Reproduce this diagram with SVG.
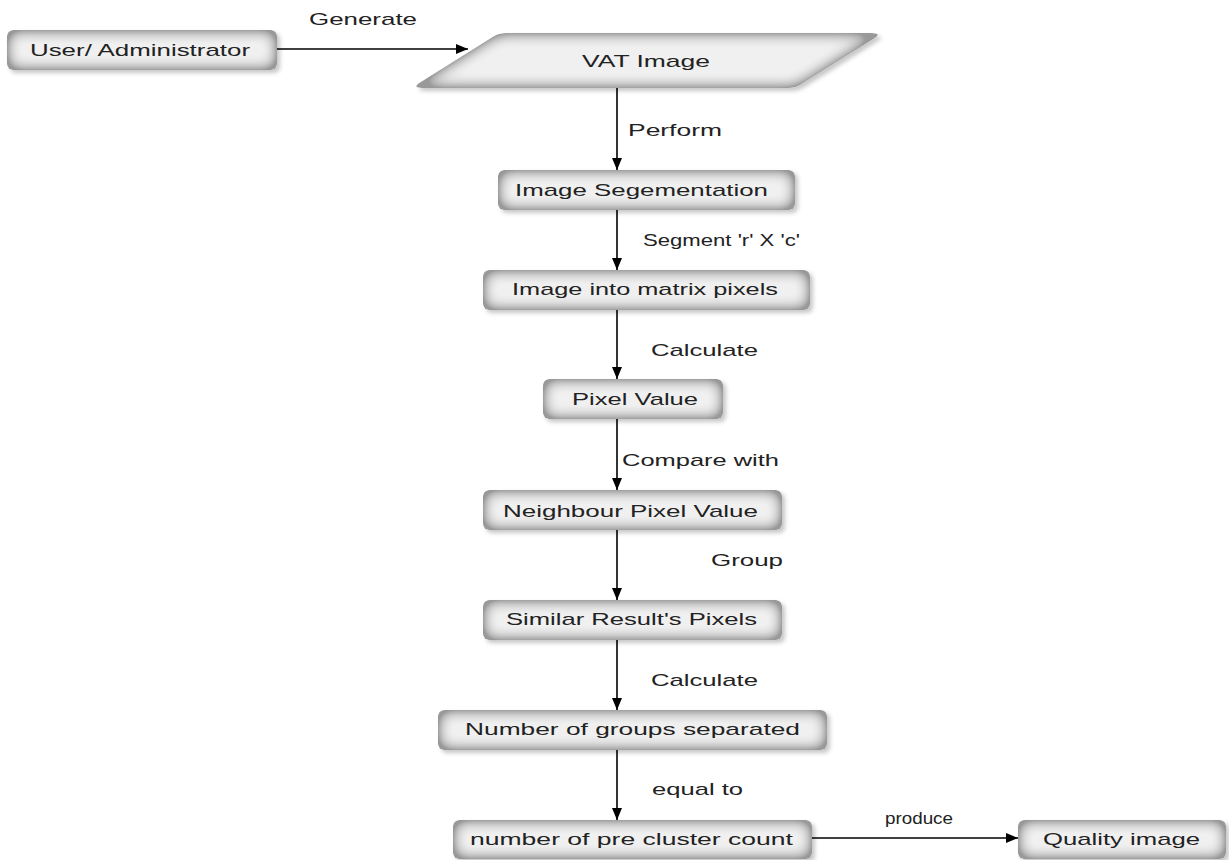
<svg xmlns="http://www.w3.org/2000/svg" width="1229" height="860" viewBox="0 0 1229 860">
  <style>
    .node { fill: #999999; filter: url(#bevel); }
    .label { font-family: "Liberation Sans", Arial, sans-serif; font-size: 17px; fill: #222; }
    .link { stroke: #000; stroke-width: 1.6; fill: none; marker-end: url(#head); }
  </style>
  <defs>
    <!-- soft bevelled face: grey rim fading smoothly to a light centre, plus a small drop shadow -->
    <filter id="bevel" x="-5%" y="-25%" width="112%" height="160%">
      <feGaussianBlur in="SourceAlpha" stdDeviation="8" result="blur"/>
      <feComponentTransfer in="blur" result="core">
        <feFuncA type="linear" slope="2" intercept="-0.95"/>
      </feComponentTransfer>
      <feFlood flood-color="#f0f0f0" result="light"/>
      <feComposite in="light" in2="core" operator="in" result="lightCore"/>
      <feMerge result="face">
        <feMergeNode in="SourceGraphic"/>
        <feMergeNode in="lightCore"/>
      </feMerge>
      <feComposite in="face" in2="SourceAlpha" operator="in" result="clipped"/>
      <feOffset in="SourceAlpha" dx="3" dy="3" result="off"/>
      <feGaussianBlur in="off" stdDeviation="2" result="offBlur"/>
      <feFlood flood-color="#000" flood-opacity="0.22"/>
      <feComposite in2="offBlur" operator="in" result="shadow"/>
      <feMerge>
        <feMergeNode in="shadow"/>
        <feMergeNode in="clipped"/>
      </feMerge>
    </filter>
    <marker id="head" viewBox="0 0 12 10" refX="12" refY="5" markerWidth="12" markerHeight="10" markerUnits="userSpaceOnUse" orient="auto">
      <path d="M0,0 L12,5 L0,10 Z" fill="#000"/>
    </marker>
  </defs>

  <!-- connectors -->
  <g id="connectors">
    <line class="link" x1="277" y1="49" x2="468" y2="49"/>
    <line class="link" x1="617" y1="88" x2="617" y2="170"/>
    <line class="link" x1="617" y1="210" x2="617" y2="270"/>
    <line class="link" x1="617" y1="310" x2="617" y2="379"/>
    <line class="link" x1="617" y1="419" x2="617" y2="490"/>
    <line class="link" x1="617" y1="530" x2="617" y2="600"/>
    <line class="link" x1="617" y1="640" x2="617" y2="710"/>
    <line class="link" x1="617" y1="750" x2="617" y2="820"/>
    <line class="link" x1="812" y1="838" x2="1018" y2="838"/>
    <text class="label" x="309" y="25" textLength="108" lengthAdjust="spacingAndGlyphs">Generate</text>
    <text class="label" x="628" y="136" textLength="94" lengthAdjust="spacingAndGlyphs">Perform</text>
    <text class="label" x="643" y="246" textLength="157" lengthAdjust="spacingAndGlyphs">Segment 'r' X 'c'</text>
    <text class="label" x="651" y="356" textLength="107" lengthAdjust="spacingAndGlyphs">Calculate</text>
    <text class="label" x="622" y="466" textLength="157" lengthAdjust="spacingAndGlyphs">Compare with</text>
    <text class="label" x="711" y="566" textLength="72" lengthAdjust="spacingAndGlyphs">Group</text>
    <text class="label" x="651" y="686" textLength="107" lengthAdjust="spacingAndGlyphs">Calculate</text>
    <text class="label" x="652" y="795" textLength="91" lengthAdjust="spacingAndGlyphs">equal to</text>
    <text class="label" x="885" y="824" textLength="68" lengthAdjust="spacingAndGlyphs">produce</text>
  </g>

  <g id="user">
    <rect class="node" x="7" y="30" width="270" height="40" rx="6"/>
    <text class="label" x="30" y="56" textLength="220" lengthAdjust="spacingAndGlyphs">User/ Administrator</text>
  </g>

  <g id="vat-image">
    <path class="node" d="M506,33 L872,33 Q882,33 875,38 L800,85 Q795,88 788,88 L422,88 Q412,88 419,83 L494,36 Q499,33 506,33 Z"/>
    <text class="label" x="582" y="67" textLength="128" lengthAdjust="spacingAndGlyphs">VAT Image</text>
  </g>

  <g id="segmentation">
    <rect class="node" x="498" y="170" width="297" height="40" rx="6"/>
    <text class="label" x="515" y="196" textLength="253" lengthAdjust="spacingAndGlyphs">Image Segementation</text>
  </g>

  <g id="matrix">
    <rect class="node" x="483" y="270" width="327" height="40" rx="6"/>
    <text class="label" x="512" y="295" textLength="266" lengthAdjust="spacingAndGlyphs">Image into matrix pixels</text>
  </g>

  <g id="pixel-value">
    <rect class="node" x="543" y="379" width="180" height="40" rx="6"/>
    <text class="label" x="572" y="405" textLength="126" lengthAdjust="spacingAndGlyphs">Pixel Value</text>
  </g>

  <g id="neighbour">
    <rect class="node" x="483" y="490" width="299" height="40" rx="6"/>
    <text class="label" x="503" y="517" textLength="255" lengthAdjust="spacingAndGlyphs">Neighbour Pixel Value</text>
  </g>

  <g id="similar">
    <rect class="node" x="483" y="600" width="299" height="40" rx="6"/>
    <text class="label" x="506" y="625" textLength="251" lengthAdjust="spacingAndGlyphs">Similar Result's Pixels</text>
  </g>

  <g id="groups">
    <rect class="node" x="438" y="710" width="389" height="40" rx="6"/>
    <text class="label" x="465" y="735" textLength="335" lengthAdjust="spacingAndGlyphs">Number of groups separated</text>
  </g>

  <g id="pre-cluster">
    <rect class="node" x="453" y="820" width="359" height="39" rx="6"/>
    <text class="label" x="470" y="845" textLength="323" lengthAdjust="spacingAndGlyphs">number of pre cluster count</text>
  </g>

  <g id="quality">
    <rect class="node" x="1018" y="820" width="208" height="39" rx="6"/>
    <text class="label" x="1043" y="845" textLength="157" lengthAdjust="spacingAndGlyphs">Quality image</text>
  </g>
</svg>
